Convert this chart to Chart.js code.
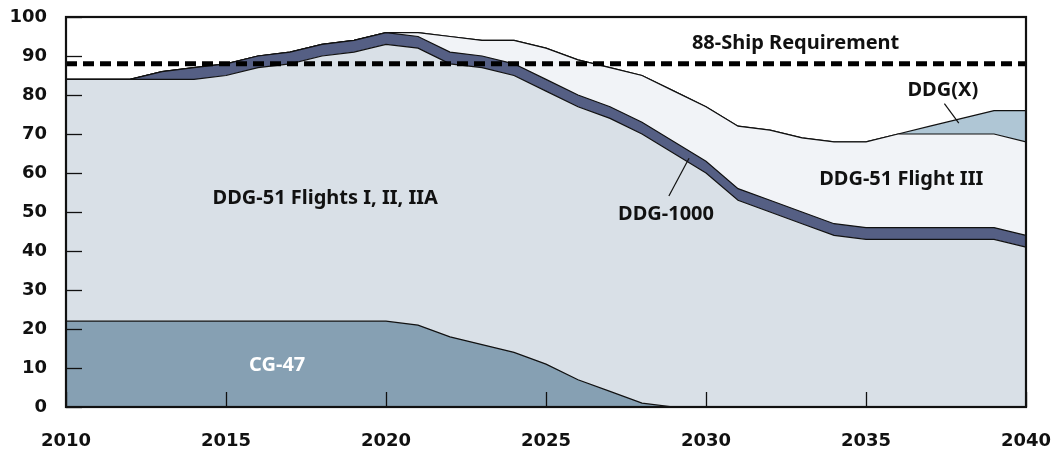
<!DOCTYPE html>
<html><head><meta charset="utf-8">
<script src="https://cdn.jsdelivr.net/npm/chart.js@4.4.0/dist/chart.umd.min.js"></script>
<style>html,body{margin:0;padding:0;background:#fff}#wrap{width:1052px;height:454px;position:relative}</style>
</head><body><div id="wrap"><canvas id="c"></canvas></div>
<script>
const years = ['2010','2011','2012','2013','2014','2015','2016','2017','2018','2019','2020','2021','2022','2023','2024','2025','2026','2027','2028','2029','2030','2031','2032','2033','2034','2035','2036','2037','2038','2039','2040'];
const cg47     = [22,22,22,22,22,22,22,22,22,22,22,21,18,16,14,11,7,4,1,0,0,0,0,0,0,0,0,0,0,0,0];
const ddg51I   = [62,62,62,62,62,63,65,66,68,69,71,71,70,71,71,70,70,70,69,65,60,53,50,47,44,43,43,43,43,43,41];
const ddg1000  = [0,0,0,2,3,3,3,3,3,3,3,3,3,3,3,3,3,3,3,3,3,3,3,3,3,3,3,3,3,3,3];
const ddg51III = [0,0,0,0,0,0,0,0,0,0,0,1,4,4,6,8,9,10,12,13,14,16,18,19,21,22,24,24,24,24,24];
const ddgX     = [0,0,0,0,0,0,0,0,0,0,0,0,0,0,0,0,0,0,0,0,0,0,0,0,0,0,0,2,4,6,8];
const requirement = years.map(() => 88);
const xTickYears = ['2010','2015','2020','2025','2030','2035','2040'];
const yTickValues = [0,10,20,30,40,50,60,70,80,90,100];

const FONT = '"Noto Sans", "Open Sans", sans-serif';
const TICK_FONT = '"DejaVu Sans", "Noto Sans", sans-serif';

const annotations = [
  {text:'88-Ship Requirement', x:22.8, y:93.2, color:'#111'},
  {text:'DDG(X)', x:27.4, y:81.2, color:'#111'},
  {text:'DDG-51 Flight III', x:26.1, y:58.5, color:'#111'},
  {text:'DDG-1000', x:18.75, y:49.3, color:'#111'},
  {text:'DDG-51 Flights I, II, IIA', x:8.1, y:53.5, color:'#111'},
  {text:'CG-47', x:6.6, y:10.8, color:'#fff'}
];
const leaders = [
  {x1:27.45, y1:77.8, x2:27.9, y2:72.8},
  {x1:18.84, y1:54.1, x2:19.47, y2:63.8}
];

const overlay = {
  id:'overlay',
  afterDatasetsDraw(chart){
    const {ctx, chartArea:a, scales:{x, y}} = chart;
    ctx.save();
    ctx.strokeStyle = '#111';
    ctx.lineWidth = 1.3;
    yTickValues.forEach(v => {
      const py = Math.round(y.getPixelForValue(v)) + 0.5;
      ctx.beginPath(); ctx.moveTo(a.left, py); ctx.lineTo(a.left + 16, py); ctx.stroke();
    });
    xTickYears.forEach(t => {
      const px = Math.round(x.getPixelForValue(years.indexOf(t))) + 0.5;
      ctx.beginPath(); ctx.moveTo(px, a.bottom); ctx.lineTo(px, a.bottom - 15); ctx.stroke();
    });
    ctx.lineWidth = 2.2;
    ctx.strokeRect(a.left, a.top, a.right - a.left, a.bottom - a.top);
    ctx.lineWidth = 1.2;
    leaders.forEach(l => {
      ctx.beginPath();
      ctx.moveTo(x.getPixelForValue(l.x1), y.getPixelForValue(l.y1));
      ctx.lineTo(x.getPixelForValue(l.x2), y.getPixelForValue(l.y2));
      ctx.stroke();
    });
    ctx.fillStyle = '#111';
    ctx.font = 'bold 18px ' + TICK_FONT;
    ctx.textBaseline = 'middle';
    ctx.textAlign = 'right';
    yTickValues.forEach(v => ctx.fillText(String(v), a.left - 19, y.getPixelForValue(v)));
    ctx.textAlign = 'center';
    xTickYears.forEach(t => ctx.fillText(t, x.getPixelForValue(years.indexOf(t)), a.bottom + 34));
    ctx.font = 'bold 20px ' + FONT;
    annotations.forEach(t => {
      ctx.fillStyle = t.color;
      ctx.fillText(t.text, x.getPixelForValue(t.x), y.getPixelForValue(t.y));
    });
    ctx.restore();
  }
};

const area = (label, data, color, fill) => ({
  label, data, backgroundColor: color, borderColor: '#111', borderWidth: 1.2,
  fill, pointRadius: 0, tension: 0, stack: 'ships'
});

new Chart(document.getElementById('c'), {
  type: 'line',
  data: {
    labels: years,
    datasets: [
      {label:'88-Ship Requirement', data: requirement, borderColor:'#000', borderWidth:5,
       borderDash:[11,6], fill:false, pointRadius:0, stack:'req', borderCapStyle:'butt'},
      area('CG-47', cg47, '#86a0b3', 'origin'),
      area('DDG-51 Flights I, II, IIA', ddg51I, '#d9e0e7', '-1'),
      area('DDG-1000', ddg1000, '#555f84', '-1'),
      area('DDG-51 Flight III', ddg51III, '#f1f3f7', '-1'),
      area('DDG(X)', ddgX, '#afc6d5', '-1')
    ]
  },
  options: {
    responsive: true, maintainAspectRatio: false, animation: false,
    devicePixelRatio: 1,
    layout: {padding: {top: 17, right: 26, left: 0, bottom: 0}},
    plugins: {legend: {display: false}, tooltip: {enabled: false}},
    scales: {
      x: {
        grid: {display: false, drawTicks: false}, border: {display: false},
        ticks: {display: false, autoSkip: false},
        afterFit(s){ s.height = 47; }
      },
      y: {
        stacked: true, min: 0, max: 100,
        grid: {display: false, drawTicks: false}, border: {display: false},
        ticks: {display: false, stepSize: 10},
        afterFit(s){ s.width = 66; }
      }
    }
  },
  plugins: [overlay]
});
</script></body></html>
